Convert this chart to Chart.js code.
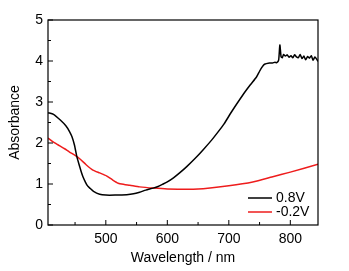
<!DOCTYPE html>
<html>
<head>
<meta charset="utf-8">
<script src="https://cdn.jsdelivr.net/npm/chart.js@4/dist/chart.umd.min.js"></script>
<style>
  html, body { margin: 0; padding: 0; background: #fff; }
  #wrap { width: 349px; height: 271px; }
</style>
</head>
<body>
<div id="wrap"><canvas id="absChart" width="349" height="271"></canvas></div>
<script>
// series labels
const seriesNames = ['0.8V', '-0.2V'];

// 0.8V curve
const wlOx = [406, 415, 426, 435, 441, 445, 449, 453, 457, 460, 463, 467, 470, 474, 480, 490, 500, 515, 534, 545, 555, 565,
  577, 585, 592, 600, 610, 620, 632, 645, 658, 672, 681, 692, 704, 715, 725, 735, 745, 750, 754, 758, 766,
  771, 775, 778, 781, 783, 785, 787, 789, 792, 795, 798, 801, 804, 807, 810, 813, 816, 819, 822,
  825, 828, 831, 834, 837, 840, 843, 845];
const absOx = [2.74, 2.70, 2.56, 2.42, 2.28, 2.15, 1.95, 1.66, 1.45, 1.30, 1.17, 1.04, 0.96, 0.90, 0.82, 0.75, 0.73, 0.73, 0.74, 0.76, 0.80, 0.85,
  0.90, 0.94, 0.99, 1.05, 1.15, 1.27, 1.43, 1.62, 1.83, 2.07, 2.24, 2.46, 2.75, 3.00, 3.22, 3.42, 3.61, 3.75, 3.85, 3.92, 3.95,
  3.95, 3.97, 3.96, 4.02, 4.39, 4.10, 4.08, 4.16, 4.12, 4.15, 4.09, 4.13, 4.08, 4.15, 4.10, 4.08, 4.16, 4.06, 4.12, 4.03,
  4.11, 4.07, 4.13, 4.02, 4.10, 4.04, 3.99, 3.98];

// -0.2V curve
const wlRed = [406, 415, 425, 433, 441, 450, 458, 468, 479, 490, 501, 510, 520, 530, 539, 555, 577, 600, 650, 700, 739, 770, 800, 845];
const absRed = [2.12, 2.02, 1.93, 1.86, 1.78, 1.70, 1.61, 1.47, 1.34, 1.27, 1.20, 1.11, 1.02, 0.99, 0.97, 0.93, 0.90, 0.88, 0.88, 0.96, 1.05, 1.17, 1.29, 1.48];

// axis ticks
const xTicks = [500, 600, 700, 800];
const xMinor = [450, 550, 650, 750];
const yTicks = [0, 1, 2, 3, 4, 5];
const yMinor = [0.5, 1.5, 2.5, 3.5, 4.5];

const FONT = 'Arial, "Liberation Sans", sans-serif';

function toPoints(xs, ys) {
  return xs.map((x, i) => ({ x: x, y: ys[i] }));
}

// frame, inward ticks and legend inside the plot
const framePlugin = {
  id: 'frame',
  afterDraw(chart) {
    const ctx = chart.ctx;
    const a = chart.chartArea;
    const xs = chart.scales.x, ys = chart.scales.y;
    ctx.save();
    ctx.strokeStyle = '#000';
    ctx.lineWidth = 1.2;
    ctx.strokeRect(a.left, a.top, a.right - a.left, a.bottom - a.top);
    ctx.lineWidth = 1;
    ctx.beginPath();
    xTicks.forEach(v => { const p = xs.getPixelForValue(v); ctx.moveTo(p, a.bottom); ctx.lineTo(p, a.bottom - 5); });
    xMinor.forEach(v => { const p = xs.getPixelForValue(v); ctx.moveTo(p, a.bottom); ctx.lineTo(p, a.bottom - 3); });
    yTicks.forEach(v => { const p = ys.getPixelForValue(v); ctx.moveTo(a.left, p); ctx.lineTo(a.left + 5, p); });
    yMinor.forEach(v => { const p = ys.getPixelForValue(v); ctx.moveTo(a.left, p); ctx.lineTo(a.left + 3, p); });
    ctx.stroke();

    // legend
    ctx.font = '14px ' + FONT;
    ctx.textBaseline = 'middle';
    ctx.fillStyle = '#000';
    const lx = a.right - 70, ly = a.bottom - 27;
    chart.data.datasets.forEach((ds, i) => {
      const y = ly + i * 14;
      ctx.strokeStyle = ds.borderColor;
      ctx.lineWidth = 1.5;
      ctx.beginPath();
      ctx.moveTo(lx, y);
      ctx.lineTo(lx + 24, y);
      ctx.stroke();
      ctx.fillText(ds.label, lx + 28, y);
    });
    ctx.restore();
  }
};

new Chart(document.getElementById('absChart'), {
  type: 'line',
  data: {
    datasets: [{
      label: seriesNames[0],
      data: toPoints(wlOx, absOx),
      borderColor: '#000000',
      borderWidth: 1.5,
      pointRadius: 0,
      tension: 0.2
    }, {
      label: seriesNames[1],
      data: toPoints(wlRed, absRed),
      borderColor: '#ee1c1c',
      borderWidth: 1.5,
      pointRadius: 0,
      tension: 0.2
    }]
  },
  options: {
    responsive: false,
    animation: false,
    layout: { padding: { left: 0, top: 20, right: 31, bottom: 0 } },
    plugins: {
      legend: { display: false },
      tooltip: { enabled: false }
    },
    scales: {
      x: {
        type: 'linear',
        min: 406,
        max: 845,
        afterBuildTicks(scale) { scale.ticks = xTicks.map(v => ({ value: v })); },
        afterFit(scale) { scale.height = 46; },
        grid: { display: false, drawTicks: false },
        border: { display: false },
        ticks: { color: '#000', padding: 6, font: { family: FONT, size: 14 } },
        title: { display: true, text: 'Wavelength / nm', color: '#000', padding: { top: 0, bottom: 4 }, font: { family: FONT, size: 14 } }
      },
      y: {
        min: 0,
        max: 5,
        afterBuildTicks(scale) { scale.ticks = yTicks.map(v => ({ value: v })); },
        afterFit(scale) { scale.width = 48; },
        grid: { display: false, drawTicks: false },
        border: { display: false },
        ticks: { color: '#000', padding: 5, font: { family: FONT, size: 14 } },
        title: { display: true, text: 'Absorbance', color: '#000', padding: { top: 7, bottom: 0 }, font: { family: FONT, size: 14 } }
      }
    }
  },
  plugins: [framePlugin]
});
</script>
</body>
</html>
